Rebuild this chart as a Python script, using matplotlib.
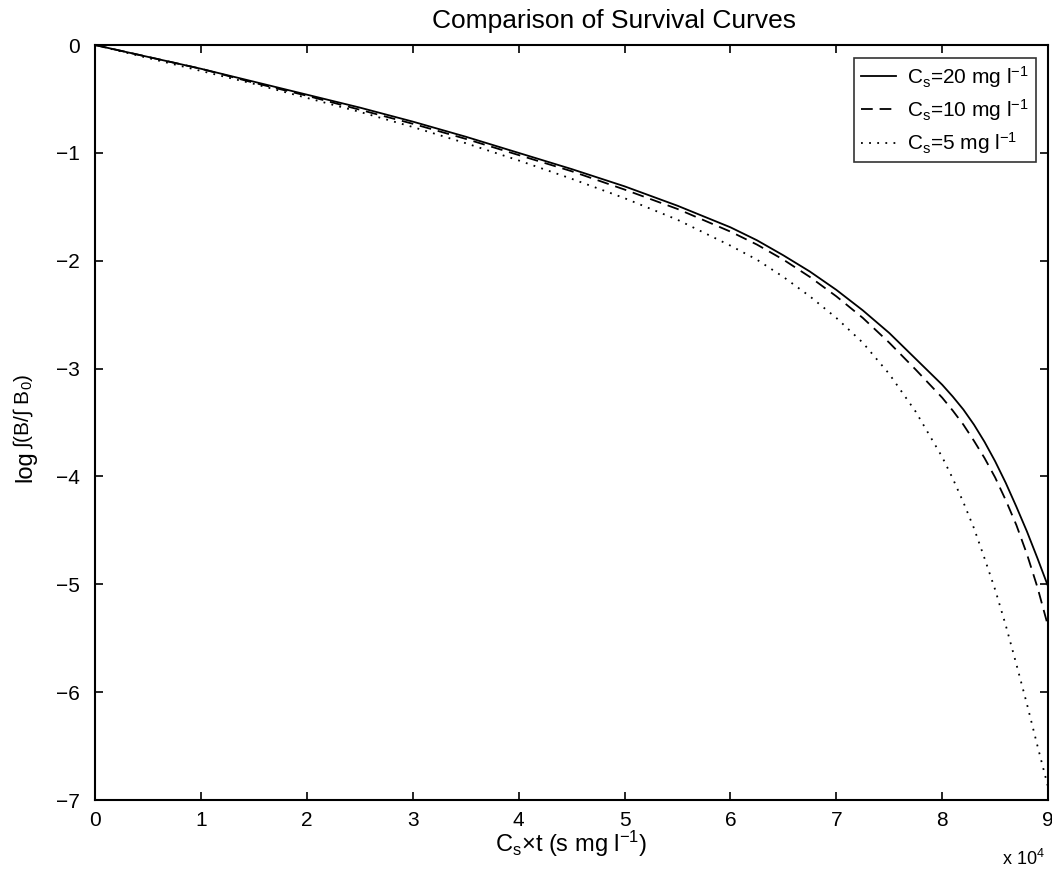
import matplotlib.pyplot as plt

plt.rcParams['font.family'] = ['Liberation Sans', 'DejaVu Sans']
plt.rcParams['mathtext.fontset'] = 'custom'
plt.rcParams['mathtext.rm'] = 'Liberation Sans'
plt.rcParams['mathtext.it'] = 'Liberation Sans'
plt.rcParams['mathtext.default'] = 'regular'

# x in units of 10^4 (s mg l^-1)
x = [0, 0.5, 1, 1.5, 2, 2.5, 3, 3.5, 4, 4.5, 5, 5.5, 6, 6.25, 6.5, 6.75, 7,
     7.25, 7.5, 7.75, 8, 8.1, 8.2, 8.3, 8.4, 8.5, 8.6, 8.7, 8.8, 8.9, 9]
cs20 = [0, -0.11, -0.22, -0.34, -0.46, -0.58, -0.71, -0.85, -1.0, -1.15, -1.31,
        -1.49, -1.69, -1.81, -1.95, -2.10, -2.27, -2.46, -2.67, -2.91, -3.15,
        -3.26, -3.38, -3.52, -3.68, -3.86, -4.06, -4.28, -4.51, -4.76, -5.02]
cs10 = [0, -0.11, -0.22, -0.35, -0.47, -0.60, -0.73, -0.87, -1.02, -1.17, -1.34,
        -1.52, -1.73, -1.85, -1.99, -2.15, -2.33, -2.53, -2.76, -3.01, -3.27,
        -3.39, -3.52, -3.67, -3.83, -4.01, -4.22, -4.45, -4.72, -5.03, -5.39]
cs5 = [0, -0.12, -0.24, -0.36, -0.49, -0.62, -0.76, -0.91, -1.07, -1.24, -1.42,
       -1.62, -1.86, -1.99, -2.15, -2.33, -2.53, -2.76, -3.05, -3.40, -3.82,
       -4.02, -4.24, -4.48, -4.76, -5.05, -5.38, -5.74, -6.11, -6.50, -6.88]
labels = [r'C$_s$=20 mg l$^{-1}$', r'C$_s$=10 mg l$^{-1}$', r'C$_s$=5 mg l$^{-1}$']

fig = plt.figure(figsize=(10.52, 8.69), dpi=100)
ax = fig.add_axes([0.0903, 0.0794, 0.906, 0.8688])

ax.plot(x, cs20, color='k', lw=1.3, linestyle='-', label=labels[0])
ax.plot(x, cs10, color='k', lw=1.3, linestyle=(0, (6.5, 3.8)), label=labels[1])
ax.plot(x, cs5, color='k', lw=1.3, linestyle=(0, (1, 3.5)), label=labels[2])

ax.set_xlim(0, 9)
ax.set_ylim(-7, 0)
ax.set_xticks(range(0, 10))
ax.set_yticks(range(-7, 1))
ax.set_yticklabels(['\u22127', '\u22126', '\u22125', '\u22124', '\u22123',
                    '\u22122', '\u22121', '0'])
ax.tick_params(direction='in', length=6, width=1.2, labelsize=15,
               top=True, right=True)
ax.tick_params(axis='x', pad=8)
ax.tick_params(axis='y', pad=11)
for s in ax.spines.values():
    s.set_linewidth(1.5)

ax.set_title('Comparison of Survival Curves', fontsize=19, pad=12, x=0.545)
ax.set_xlabel(r'C$_s$$\times$t (s mg l$^{-1}$)', fontsize=17, labelpad=-1)
fig.text(0.024, 0.445, 'log', rotation=90, fontsize=17, ha='center', va='bottom')
fig.text(0.022, 0.483, r'$\int$(B/$\int$ B$_0$)', rotation=90, fontsize=15,
         ha='center', va='bottom')
ax.text(0.996, -0.065, r'x 10$^4$', transform=ax.transAxes, fontsize=13,
        ha='right', va='top')

leg = ax.legend(loc='upper right', fontsize=15, frameon=True, fancybox=False,
                edgecolor='k', borderaxespad=0.6, handlelength=1.7,
                handletextpad=0.55, labelspacing=0.35, borderpad=0.3)
leg.get_frame().set_linewidth(1.2)

fig.savefig('out.png', dpi=100)
